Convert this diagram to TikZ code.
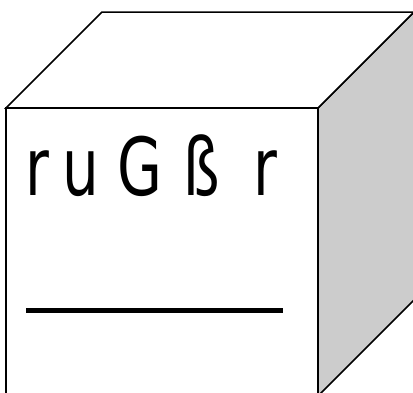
\documentclass[tikz,border=0pt]{standalone}
\usepackage{fontspec}
\setmainfont{DejaVu Sans}[FakeStretch=0.84]
\begin{document}
\begin{tikzpicture}[x=1pt,y=-1pt,
  edge/.style={draw=black,line width=1.5pt,line join=miter},
  side/.style={edge,fill=black!20},
  label/.style={inner sep=0pt,outer sep=0pt,anchor=base west,font=\fontsize{69}{80}\selectfont}]
\useasboundingbox (0,0) rectangle (413,392);
\coordinate (fl) at (6,108);
\coordinate (fr) at (318,108);
\coordinate (bl) at (102,12);
\coordinate (br) at (414,12);
\coordinate (flb) at (6,400);
\coordinate (frb) at (318,400);
\coordinate (brm) at (414,300);
\coordinate (frm) at (318,396);
\draw[side] (fr) -- (br) -- (brm) -- (frm) -- cycle;
\draw[edge,fill=white] (fl) -- (bl) -- (br) -- (fr) -- cycle;
\draw[edge,fill=white] (fl) -- (fr) -- (frb) -- (flb) -- cycle;
\node[label] (txt) at (25,195) {\scalebox{1}[1.16]{\makebox[38pt][l]{r}\makebox[55pt][l]{u}\makebox[66pt][l]{G}\makebox[70pt][l]{ß}r}};
\coordinate (ls) at (26,310);
\coordinate (le) at (283,310);
\draw[line width=5pt] (ls) -- (le);
\end{tikzpicture}
\end{document}
